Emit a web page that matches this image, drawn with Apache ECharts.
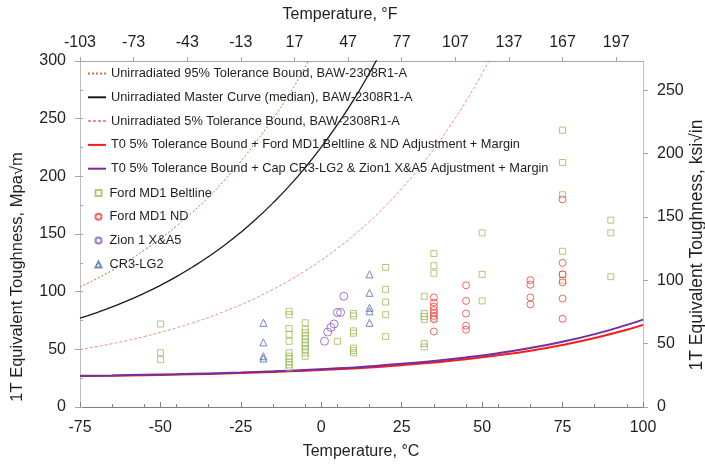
<!DOCTYPE html>
<html>
<head>
<meta charset="utf-8">
<script src="https://cdn.jsdelivr.net/npm/echarts@6/dist/echarts.min.js"></script>
<style>
  html, body { margin: 0; padding: 0; background: #ffffff; }
  #chart { width: 705px; height: 465px; }
</style>
</head>
<body>
<div id="chart"></div>
<script>
// ---- axis scales ----
const celsiusRange = [-75, 100];
const celsiusStep = 25;
const fahrenheitTicks = [-103, -73, -43, -13, 17, 47, 77, 107, 137, 167, 197];
const fahrenheitStep = 30;
const fahrenheitMax = 212;
const mpaRange = [0, 300];
const mpaStep = 50;
const ksiStep = 50;
const MPA_PER_KSI = 1.0988;

// ---- curves (temperature °C, toughness MPa√m) ----
const tol95Temps = [-75, -70, -65, -60, -55, -50, -45, -40, -35, -30, -25, -20, -15, -10, -5, 0];
const tol95Vals  = [104, 111, 118.5, 127, 136, 146, 157, 169, 182, 197, 213, 231, 250, 271, 295, 321];

const medianTemps = [-75, -70, -65, -60, -55, -50, -45, -40, -35, -30, -25, -20, -15, -10, -5, 0, 5, 10, 15, 20];
const medianVals  = [77, 81.7, 86.8, 92.4, 98.7, 105.5, 113, 121.4, 130.5, 140.5, 151.5, 163.6, 177, 191.5, 207.6, 225.3, 244.8, 266, 289.7, 315.6];

const tol5Temps = [-75, -70, -65, -60, -55, -50, -45, -40, -35, -30, -25, -20, -15, -10, -5, 0, 5, 10, 15, 20, 25, 30, 35, 40, 45, 50, 55];
const tol5Vals  = [49.8, 52.2, 54.9, 57.8, 61.1, 64.7, 68.6, 73, 77.7, 83, 88.7, 95, 102, 109.6, 118, 127.3, 137.5, 148.7, 161, 174.5, 189.4, 205.7, 223.8, 243.6, 265.3, 289.2, 315.5];

const adjTemps    = [-75, -65, -55, -45, -35, -25, -15, -5, 5, 15, 25, 35, 45, 55, 65, 75, 85, 95, 100];
const fordAdjVals = [26.9, 27.2, 27.6, 28.1, 28.7, 29.5, 30.4, 31.5, 32.8, 34.3, 36.3, 38.6, 41.4, 44.8, 48.8, 53.8, 59.8, 67, 71.2];
const capAdjVals  = [27, 27.4, 27.9, 28.4, 29.1, 29.9, 30.9, 32.1, 33.5, 35.3, 37.4, 39.9, 43, 46.7, 51.2, 56.6, 63.2, 71.2, 75.8];

// ---- test data [°C, MPa√m] ----
const fordBeltline = [
  [-50, 72], [-50, 47], [-50, 41],
  [-10, 83], [-10, 80], [-10, 68], [-10, 63], [-10, 57], [-10, 47], [-10, 44], [-10, 42], [-10, 39], [-10, 36.5], [-10, 34],
  [-5, 73], [-5, 67.5], [-5, 64.5], [-5, 61.5], [-5, 59], [-5, 56], [-5, 53], [-5, 50], [-5, 47], [-5, 44],
  [5, 57],
  [10, 81], [10, 79], [10, 66], [10, 64], [10, 51], [10, 49], [10, 47],
  [20, 121], [20, 102], [20, 91], [20, 80], [20, 61],
  [32, 96], [32, 81], [32, 78.5], [32, 76], [32, 55], [32, 52],
  [35, 133], [35, 122.5], [35, 116], [35, 77],
  [50, 151], [50, 115], [50, 92],
  [75, 240], [75, 212], [75, 184], [75, 135], [75, 115], [75, 110],
  [90, 162], [90, 151], [90, 113]
];
const fordND = [
  [35, 95], [35, 90.5], [35, 87], [35, 84], [35, 81.5], [35, 79], [35, 76], [35, 65.5],
  [45, 105.5], [45, 92], [45, 81], [45, 70.5], [45, 67],
  [65, 110], [65, 106], [65, 95], [65, 89],
  [75, 180], [75, 125], [75, 115], [75, 108], [75, 94], [75, 76.5]
];
const zionXA5 = [[1, 57], [2, 65], [3, 69], [4, 72], [5, 82], [6, 82], [7, 96]];
const cr3LG2 = [
  [-18, 73], [-18, 56], [-18, 44], [-18, 42],
  [15, 115], [15, 99], [15, 86], [15, 83], [15, 73]
];

const names = {
  tol95: 'Unirradiated 95% Tolerance Bound, BAW-2308R1-A',
  median: 'Unirradiated Master Curve (median), BAW-2308R1-A',
  tol5: 'Unirradiated 5% Tolerance Bound, BAW-2308R1-A',
  ford: 'T0 5% Tolerance Bound + Ford MD1 Beltline & ND Adjustment + Margin',
  cap: 'T0 5% Tolerance Bound + Cap CR3-LG2 & Zion1 X&A5 Adjustment + Margin',
  beltline: 'Ford MD1 Beltline',
  nd: 'Ford MD1 ND',
  zion: 'Zion 1 X&A5',
  cr3: 'CR3-LG2'
};

const FONT = '"Liberation Sans", Arial, Helvetica, sans-serif';
const TEXT = '#1f1f1f';
const zip = (xs, ys) => xs.map((x, i) => [x, ys[i]]);

function curve(name, temps, vals, color, width, type) {
  return {
    name, type: 'line', data: zip(temps, vals),
    xAxisIndex: 0, yAxisIndex: 0,
    smooth: true, symbol: 'none', showSymbol: false, clip: true,
    lineStyle: { color, width, type },
    itemStyle: { color },
    z: 2
  };
}
function points(name, data, symbol, size, color) {
  return {
    name, type: 'scatter', data, symbol, symbolSize: size,
    xAxisIndex: 0, yAxisIndex: 0,
    itemStyle: { color: 'rgba(0,0,0,0)', borderColor: color, borderWidth: 1 },
    z: 3
  };
}

const chart = echarts.init(document.getElementById('chart'), null, { renderer: 'canvas' });

const labelStyle = { fontFamily: FONT, fontSize: 16, color: TEXT };
const legendText = { fontFamily: FONT, fontSize: 12.8, color: TEXT, lineHeight: 14 };

chart.setOption({
  animation: false,
  backgroundColor: '#ffffff',
  grid: { left: 80, right: 62, top: 61, bottom: 58, containLabel: false },
  xAxis: [
    { // °C, bottom
      type: 'value', position: 'bottom',
      min: celsiusRange[0], max: celsiusRange[1], interval: celsiusStep,
      axisLine: { show: true, onZero: false, lineStyle: { color: '#7f7f7f', width: 1 } },
      axisTick: { show: true, inside: true, length: 5, lineStyle: { color: '#7f7f7f' } },
      axisLabel: Object.assign({ margin: 13 }, labelStyle),
      splitLine: { show: false }
    },
    { // °F, top (offset so ticks start at the left edge)
      type: 'value', position: 'top',
      min: 0, max: fahrenheitMax - fahrenheitTicks[0], interval: fahrenheitStep,
      axisLine: { show: true, onZero: false, lineStyle: { color: '#a6a6a6', width: 1 } },
      axisTick: { show: true, inside: false, length: 4, lineStyle: { color: '#a6a6a6' } },
      axisLabel: Object.assign({
        margin: 10, showMaxLabel: false,
        formatter: (v) => {
          const f = Math.round(v + fahrenheitTicks[0]);
          return fahrenheitTicks.includes(f) ? String(f) : '';
        }
      }, labelStyle),
      splitLine: { show: false }
    },
    { // minor ticks every 10 °C along the bottom
      type: 'value', position: 'bottom',
      min: 0, max: celsiusRange[1] - celsiusRange[0], interval: 10,
      axisLine: { show: false, onZero: false },
      axisTick: { show: true, inside: true, length: 3, lineStyle: { color: '#7f7f7f' } },
      axisLabel: { show: false },
      splitLine: { show: false }
    }
  ],
  yAxis: [
    { // MPa√m, left
      type: 'value', position: 'left',
      min: mpaRange[0], max: mpaRange[1], interval: mpaStep,
      axisLine: { show: true, onZero: false, lineStyle: { color: '#bfbfbf', width: 1 } },
      axisTick: { show: true, inside: false, length: 5, lineStyle: { color: '#a6a6a6' } },
      axisLabel: Object.assign({ margin: 14 }, labelStyle),
      splitLine: { show: false }
    },
    { // ksi√in, right
      type: 'value', position: 'right',
      min: 0, max: mpaRange[1] / MPA_PER_KSI, interval: ksiStep,
      axisLine: { show: true, onZero: false, lineStyle: { color: '#bfbfbf', width: 1 } },
      axisTick: { show: true, inside: false, length: 5, lineStyle: { color: '#a6a6a6' } },
      axisLabel: Object.assign({ margin: 14, showMaxLabel: false }, labelStyle),
      splitLine: { show: false }
    },
    { // minor ticks every 25 MPa√m on the left
      type: 'value', position: 'left',
      min: mpaRange[0], max: mpaRange[1], interval: 25,
      axisLine: { show: false, onZero: false },
      axisTick: { show: true, inside: true, length: 3, lineStyle: { color: '#a6a6a6' } },
      axisLabel: { show: false },
      splitLine: { show: false }
    }
  ],
  legend: [
    { // curve entries: line sample only
      orient: 'vertical', left: 87, top: 66.5, padding: 0,
      itemWidth: 18, itemHeight: 10, itemGap: 9.8,
      selectedMode: false,
      itemStyle: { opacity: 0 },
      textStyle: legendText,
      data: [names.tol95, names.median, names.tol5, names.ford, names.cap]
    },
    { // test data entries: marker only
      orient: 'vertical', left: 94.5, top: 186, padding: 0,
      itemWidth: 6, itemHeight: 6, itemGap: 9.8,
      selectedMode: false,
      textStyle: Object.assign({ padding: [0, 0, 0, 3] }, legendText),
      data: [names.beltline, names.nd, names.zion, names.cr3]
    }
  ],
  graphic: [
    { type: 'text', x: 361, y: 452, style: { text: 'Temperature, °C', font: '16px ' + FONT, fill: TEXT, align: 'center', verticalAlign: 'middle' } },
    { type: 'text', x: 340, y: 15, style: { text: 'Temperature, °F', font: '16px ' + FONT, fill: TEXT, align: 'center', verticalAlign: 'middle' } },
    { type: 'text', x: 17.5, y: 277, rotation: Math.PI / 2, style: { text: '1T Equivalent Toughness, Mpa√m', font: '16.5px ' + FONT, fill: TEXT, align: 'center', verticalAlign: 'middle' } },
    { type: 'text', x: 697.5, y: 245, rotation: Math.PI / 2, style: { text: '1T Equivalent Toughness, ksi√in', font: '17.5px ' + FONT, fill: TEXT, align: 'center', verticalAlign: 'middle' } }
  ],
  series: [
    curve(names.tol95, tol95Temps, tol95Vals, '#d0703a', 1, [2, 2]),
    curve(names.median, medianTemps, medianVals, '#1a1a1a', 1.3, 'solid'),
    curve(names.tol5, tol5Temps, tol5Vals, '#ec8f8f', 1, [3, 2]),
    curve(names.ford, adjTemps, fordAdjVals, '#ff1a1a', 2, 'solid'),
    curve(names.cap, adjTemps, capAdjVals, '#7030a0', 2, 'solid'),
    points(names.beltline, fordBeltline, 'rect', 6, '#9bbb59'),
    points(names.nd, fordND, 'circle', 7, '#ff3b3b'),
    points(names.zion, zionXA5, 'circle', 8, '#8a55c4'),
    points(names.cr3, cr3LG2, 'triangle', 7, '#4f6fa8')
  ]
});
</script>
</body>
</html>
